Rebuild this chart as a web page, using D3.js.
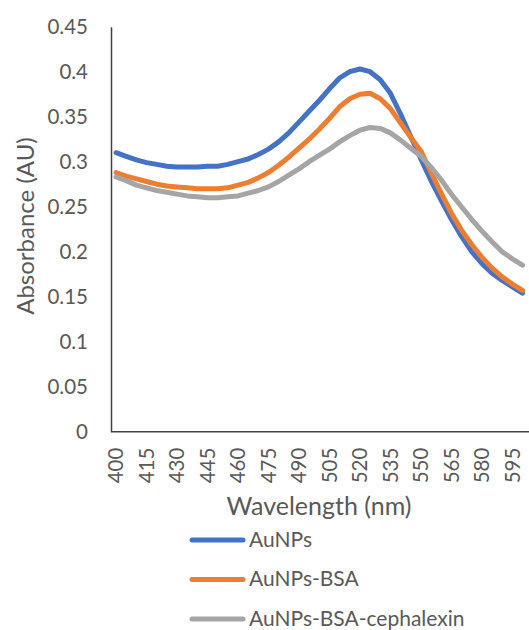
<!DOCTYPE html>
<html>
<head>
<meta charset="utf-8">
<script src="https://cdn.jsdelivr.net/npm/d3@7"></script>
<style>
  html, body { margin: 0; padding: 0; background: #fff; }
  svg { display: block; }
  text { font-family: Lato, "Open Sans", sans-serif; fill: #595959; }
</style>
</head>
<body>
<svg id="chart" width="529" height="630"></svg>
<script>
const wavelengths = d3.range(400, 601, 5);
const auNPs = [0.310,0.306,0.302,0.299,0.297,0.295,0.294,0.294,0.294,0.295,0.295,
  0.297,0.300,0.303,0.308,0.314,0.322,0.332,0.344,0.356,0.368,
  0.381,0.393,0.400,0.403,0.400,0.391,0.376,0.353,0.328,0.303,
  0.279,0.257,0.236,0.217,0.200,0.187,0.176,0.168,0.161,0.154];
const auNPsBSA = [0.288,0.284,0.281,0.278,0.275,0.273,0.272,0.271,0.270,0.270,0.270,
  0.271,0.274,0.277,0.282,0.288,0.296,0.305,0.315,0.325,0.336,
  0.348,0.361,0.370,0.375,0.376,0.370,0.359,0.343,0.327,0.312,
  0.288,0.265,0.243,0.224,0.208,0.194,0.182,0.172,0.164,0.157];
const auNPsBSACeph = [0.283,0.279,0.274,0.271,0.268,0.266,0.264,0.262,0.261,0.260,0.260,
  0.261,0.262,0.265,0.268,0.272,0.278,0.285,0.292,0.300,0.307,
  0.314,0.322,0.329,0.335,0.338,0.337,0.332,0.324,0.315,0.306,
  0.294,0.280,0.264,0.250,0.236,0.223,0.211,0.200,0.192,0.185];
const seriesNames = ["AuNPs", "AuNPs-BSA", "AuNPs-BSA-cephalexin"];
const seriesColors = ["#4472C4", "#ED7D31", "#A5A5A5"];
const yTicks = [0, 0.05, 0.1, 0.15, 0.2, 0.25, 0.3, 0.35, 0.4, 0.45];
const xTickLabels = d3.range(400, 600, 15);

const series = [auNPs, auNPsBSA, auNPsBSACeph];

const svg = d3.select("#chart");
const margin = { left: 111, top: 26.7, bottom: 431.7 };

const x = d3.scaleBand()
  .domain(wavelengths)
  .range([margin.left, margin.left + 41 * 10.16])
  .paddingInner(0).paddingOuter(0);
const y = d3.scaleLinear().domain([0, 0.45]).range([margin.bottom, margin.top]);

// Y axis
const yAxis = svg.append("g")
  .attr("transform", `translate(${margin.left},0)`)
  .call(d3.axisLeft(y).tickValues(yTicks).tickSize(0).tickPadding(23)
    .tickFormat(d => d3.format("~g")(d)));
yAxis.select(".domain").attr("stroke", "#404040").attr("stroke-width", 1.5);
yAxis.selectAll("text").style("font-size", "20.5px").attr("fill", "#595959")
  .style("font-family", "Lato, 'Open Sans', sans-serif");

// X axis
const xAxis = svg.append("g")
  .attr("transform", `translate(0,${margin.bottom})`)
  .call(d3.axisBottom(x).tickValues(xTickLabels).tickSize(0).tickPadding(0));
xAxis.select(".domain").attr("stroke", "#404040").attr("stroke-width", 1.5)
  .attr("d", `M${margin.left},0H529`);
xAxis.selectAll("text")
  .style("font-size", "20.5px").attr("fill", "#595959")
  .style("font-family", "Lato, 'Open Sans', sans-serif")
  .attr("text-anchor", "end")
  .attr("dy", "0.35em")
  .attr("y", 0)
  .attr("transform", "translate(0,16) rotate(-90)");

// Lines
const line = d3.line()
  .x((d, i) => x(wavelengths[i]) + x.bandwidth() / 2)
  .y(d => y(d));

series.forEach((s, k) => {
  svg.append("path")
    .datum(s)
    .attr("fill", "none")
    .attr("stroke", seriesColors[k])
    .attr("stroke-width", 5)
    .attr("stroke-linejoin", "round")
    .attr("stroke-linecap", "round")
    .attr("d", line);
});

// Axis titles
svg.append("text")
  .attr("x", 319).attr("y", 515)
  .attr("text-anchor", "middle")
  .style("font-size", "25px")
  .text("Wavelength (nm)");

svg.append("text")
  .attr("transform", "translate(34,226) rotate(-90)")
  .attr("text-anchor", "middle")
  .style("font-size", "24px")
  .text("Absorbance (AU)");

// Legend
const legend = svg.append("g");
seriesNames.forEach((name, k) => {
  const cy = 540 + k * 39.5;
  legend.append("line")
    .attr("x1", 192).attr("x2", 243)
    .attr("y1", cy).attr("y2", cy)
    .attr("stroke", seriesColors[k])
    .attr("stroke-width", 5)
    .attr("stroke-linecap", "round");
  legend.append("text")
    .attr("x", 249).attr("y", cy + 6.5)
    .style("font-size", "21px")
    .text(name);
});
</script>
</body>
</html>
